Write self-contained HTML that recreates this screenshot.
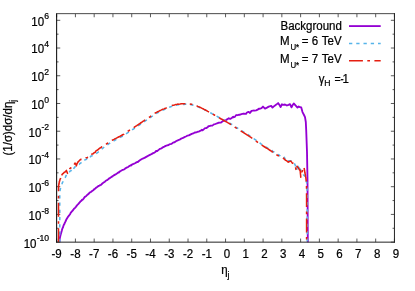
<!DOCTYPE html><html><head><meta charset="utf-8"><style>html,body{margin:0;padding:0;background:#fff}svg{display:block;will-change:transform}text{font-family:"Liberation Sans",sans-serif;fill:#000;stroke:#000;stroke-width:0.22px}</style></head><body>
<svg width="415" height="291" viewBox="0 0 415 291">
<rect width="415" height="291" fill="#fff"/>
<path d="M56.65,242.15 v-3.6 M56.65,13.65 v3.6 M75.42,242.15 v-3.6 M75.42,13.65 v3.6 M94.18,242.15 v-3.6 M94.18,13.65 v3.6 M112.95,242.15 v-3.6 M112.95,13.65 v3.6 M131.72,242.15 v-3.6 M131.72,13.65 v3.6 M150.48,242.15 v-3.6 M150.48,13.65 v3.6 M169.25,242.15 v-3.6 M169.25,13.65 v3.6 M188.02,242.15 v-3.6 M188.02,13.65 v3.6 M206.78,242.15 v-3.6 M206.78,13.65 v3.6 M225.55,242.15 v-3.6 M225.55,13.65 v3.6 M244.32,242.15 v-3.6 M244.32,13.65 v3.6 M263.08,242.15 v-3.6 M263.08,13.65 v3.6 M281.85,242.15 v-3.6 M281.85,13.65 v3.6 M300.62,242.15 v-3.6 M300.62,13.65 v3.6 M319.38,242.15 v-3.6 M319.38,13.65 v3.6 M338.15,242.15 v-3.6 M338.15,13.65 v3.6 M356.92,242.15 v-3.6 M356.92,13.65 v3.6 M375.68,242.15 v-3.6 M375.68,13.65 v3.6 M394.45,242.15 v-3.6 M394.45,13.65 v3.6 M56.65,242.15 h3.6 M394.45,242.15 h-3.6 M56.65,228.28 h1.9 M394.45,228.28 h-1.9 M56.65,214.42 h3.6 M394.45,214.42 h-3.6 M56.65,200.55 h1.9 M394.45,200.55 h-1.9 M56.65,186.69 h3.6 M394.45,186.69 h-3.6 M56.65,172.82 h1.9 M394.45,172.82 h-1.9 M56.65,158.96 h3.6 M394.45,158.96 h-3.6 M56.65,145.09 h1.9 M394.45,145.09 h-1.9 M56.65,131.22 h3.6 M394.45,131.22 h-3.6 M56.65,117.36 h1.9 M394.45,117.36 h-1.9 M56.65,103.49 h3.6 M394.45,103.49 h-3.6 M56.65,89.63 h1.9 M394.45,89.63 h-1.9 M56.65,75.76 h3.6 M394.45,75.76 h-3.6 M56.65,61.90 h1.9 M394.45,61.90 h-1.9 M56.65,48.03 h3.6 M394.45,48.03 h-3.6 M56.65,34.17 h1.9 M394.45,34.17 h-1.9 M56.65,20.30 h3.6 M394.45,20.30 h-3.6" stroke="#000" stroke-width="0.65" fill="none"/>
<path d="M59.40,242.15 L59.55,240.56 L59.70,239.00 L59.71,238.96 L60.02,237.40 L60.30,236.00 L60.35,235.83 L60.78,234.29 L61.21,232.75 L61.63,231.21 L61.90,230.25 L62.10,229.40 L62.62,227.95 L63.15,227.00 L63.20,226.54 L63.82,224.82 L64.40,223.98 L64.51,223.50 L65.17,222.16 L65.83,220.74 L66.50,219.23 L66.90,218.62 L67.26,217.98 L68.18,216.55 L69.10,215.46 L70.02,214.25 L70.94,212.39 L71.30,212.19 L71.93,211.29 L72.97,210.24 L74.00,208.78 L75.04,207.85 L76.07,206.61 L76.60,205.93 L77.13,205.19 L78.20,204.14 L79.27,202.80 L80.34,201.55 L81.41,200.71 L82.00,199.76 L82.52,199.77 L83.68,198.57 L84.84,196.87 L86.01,196.27 L87.17,194.87 L87.50,194.81 L88.39,194.09 L89.63,192.63 L90.87,192.00 L92.11,190.99 L93.35,190.24 L94.00,189.24 L94.61,189.21 L95.89,187.84 L97.17,187.05 L98.45,185.98 L99.73,185.52 L100.00,185.13 L101.02,184.80 L102.32,183.48 L103.62,182.59 L104.92,181.66 L106.00,180.57 L106.23,180.53 L107.55,179.94 L108.87,178.65 L110.19,177.87 L111.51,176.92 L112.50,176.38 L112.84,175.96 L114.20,175.17 L115.56,174.42 L116.93,173.55 L118.29,172.49 L118.75,172.60 L119.66,171.58 L121.05,170.80 L122.43,169.97 L123.81,169.66 L125.00,168.67 L125.19,168.43 L126.58,167.59 L127.97,167.14 L129.35,166.02 L130.74,165.17 L131.00,165.44 L132.15,164.43 L133.57,163.89 L134.99,163.21 L136.40,162.37 L137.50,161.89 L137.82,162.01 L139.20,160.81 L140.59,159.85 L141.98,158.93 L143.37,158.49 L144.76,157.66 L145.00,157.66 L146.16,156.87 L147.57,156.12 L148.98,155.31 L150.39,154.59 L151.80,153.99 L151.90,153.82 L153.16,153.12 L154.51,152.66 L155.86,151.49 L156.00,150.95 L157.25,150.97 L158.64,149.88 L160.03,148.80 L161.42,148.42 L162.50,147.60 L162.82,147.32 L164.28,146.64 L165.73,145.89 L167.18,145.45 L168.63,145.00 L169.00,144.53 L170.10,144.22 L171.57,143.90 L173.03,142.58 L174.50,142.27 L175.00,141.93 L175.93,141.27 L177.34,140.52 L178.76,139.99 L180.17,139.34 L181.00,138.68 L181.59,138.51 L183.01,137.94 L184.44,137.12 L185.87,136.52 L187.29,135.71 L187.50,135.61 L188.78,135.41 L190.27,134.57 L191.76,133.88 L193.25,133.43 L194.74,132.50 L195.00,132.53 L196.25,132.32 L197.75,131.74 L199.26,131.40 L200.76,130.52 L201.90,129.77 L202.24,130.37 L203.66,129.43 L205.07,128.16 L206.48,128.01 L207.90,126.93 L208.50,126.14 L209.36,126.17 L210.86,125.59 L212.36,125.61 L213.86,124.40 L215.00,124.13 L215.37,124.00 L216.89,123.46 L218.40,122.79 L219.92,122.63 L221.00,122.53 L221.42,122.21 L222.89,121.09 L224.36,120.37 L225.83,120.15 L227.00,119.37 L227.30,119.27 L228.78,118.29 L230.25,118.92 L231.73,117.96 L233.21,116.67 L233.50,117.23 L234.71,116.96 L236.22,115.05 L237.73,115.20 L239.24,114.72 L240.00,114.85 L240.76,114.35 L242.31,113.89 L243.86,113.55 L245.40,113.92 L246.00,113.89 L246.94,112.49 L248.46,111.84 L249.99,112.91 L251.52,110.85 L253.05,110.55 L254.00,110.52 L254.58,110.55 L256.11,110.35 L257.65,109.62 L259.18,108.58 L260.00,108.75 L261.50,108.20 L263.00,106.60 L265.00,108.60 L267.00,107.60 L268.75,106.60 L271.25,105.90 L272.50,107.60 L274.40,105.90 L276.30,104.60 L278.10,103.10 L279.50,105.00 L280.60,107.00 L281.90,104.30 L283.50,104.90 L285.00,104.50 L286.90,105.50 L288.50,104.80 L290.00,104.10 L291.50,107.30 L292.70,105.00 L293.75,103.50 L295.50,105.40 L297.50,107.60 L298.75,106.50 L300.00,107.20 L301.25,107.50 L302.50,112.10 L304.00,115.00 L305.00,117.10 L305.80,122.00 L306.20,130.00 L307.00,152.00 L307.50,180.00 L307.80,242.15" stroke="#9400D3" stroke-width="1.85" fill="none" stroke-linejoin="round"/>
<path d="M59.75,241.95 L59.75,240.81 L59.75,238.94 L59.75,238.11 L59.75,236.84 L59.75,235.04 L59.75,233.86 L59.75,232.41 L59.75,230.85 L59.75,229.33 L59.75,227.64 L59.75,227.10 L59.75,225.34 L59.75,224.58 L59.75,222.76 L59.75,221.22 L59.75,219.59 L59.75,218.70 L59.75,216.82 L59.75,215.94 L59.75,214.05 L59.75,212.80 L59.75,210.97 L59.75,210.54 L59.75,208.53 L59.75,207.05 L59.75,205.95 L59.75,204.13 L59.75,203.14 L59.75,201.26 L59.75,200.29 L59.75,198.49 L59.75,196.89 L59.75,195.80 L59.75,194.18 L59.75,193.29 L59.75,193.01 L59.91,191.89 L60.09,190.39 L60.20,189.41 L60.34,189.01 L60.73,187.92 L61.12,186.26 L61.50,184.81 L61.51,184.72 L62.05,183.62 L62.60,182.20 L63.14,181.56 L63.30,180.41 L63.79,179.58 L64.48,178.56 L65.18,177.59 L65.88,176.15 L66.00,175.76 L66.70,174.88 L67.55,173.88 L68.30,173.24 L68.43,172.64 L69.45,171.90 L70.47,170.81 L70.75,170.78 L71.61,170.26 L72.79,169.04 L72.80,170.00 L73.74,168.42 L74.68,167.22 L75.00,166.78 L75.84,166.53 L77.10,166.00 L77.50,165.95 L78.24,165.19 L79.32,164.43 L80.00,163.35 L80.44,163.27 L81.60,162.42 L82.00,162.44 L82.60,161.83 L83.52,160.29 L84.00,160.06 L84.62,160.03 L85.92,159.56 L87.00,158.62 L87.20,158.92 L88.38,158.11 L89.56,157.17 L90.00,157.49 L90.76,156.28 L91.98,155.79 L93.19,155.27 L94.40,154.52 L94.50,154.36 L95.56,154.02 L96.72,153.25 L97.88,152.33 L99.04,151.57 L99.50,150.99 L100.14,150.39 L101.20,149.65 L102.26,148.58 L103.32,147.82 L104.30,146.86 L104.38,146.82 L105.54,146.01 L106.70,145.28 L107.80,144.46 L107.86,144.54 L109.04,143.72 L110.22,142.95 L111.41,142.17 L112.20,141.71 L112.61,141.48 L113.84,140.91 L115.08,140.21 L116.31,139.42 L117.55,138.92 L118.30,138.32 L118.78,138.26 L120.01,137.42 L121.24,136.85 L122.48,136.23 L123.71,135.52 L124.05,135.28 L124.87,134.81 L126.01,133.84 L127.15,133.04 L128.28,132.36 L129.05,131.70 L129.43,131.51 L130.62,130.79 L131.80,130.00 L132.99,129.28 L134.05,128.60 L134.17,128.52 L135.33,127.79 L136.49,126.99 L137.65,126.18 L138.81,125.42 L139.30,125.02 L139.97,124.56 L141.13,123.76 L142.29,123.07 L143.45,122.32 L144.61,121.46 L145.30,120.90 L145.77,120.65 L146.94,119.92 L148.10,119.14 L149.26,118.35 L150.43,117.61 L150.60,117.49 L151.55,116.66 L152.67,115.91 L153.79,115.01 L154.91,114.21 L155.30,113.97 L156.11,113.59 L157.36,112.89 L158.60,112.20 L159.85,111.57 L161.10,110.98 L161.30,110.80 L162.38,110.38 L163.66,109.86 L164.95,109.32 L166.23,108.70 L167.20,108.32 L167.52,108.23 L168.79,107.60 L170.07,106.93 L171.35,106.46 L171.55,106.37 L172.69,106.02 L174.04,105.67 L175.30,105.25 L175.39,105.37 L176.77,105.09 L178.15,104.80 L178.30,104.81 L179.54,104.65 L180.93,104.44 L182.30,104.18 L182.32,104.17 L183.72,104.36 L185.12,104.15 L185.90,104.16 L186.51,104.23 L187.91,104.25 L188.80,104.36 L189.31,104.33 L190.69,104.62 L191.55,104.62 L192.07,104.88 L193.43,105.19 L194.30,105.37 L194.78,105.54 L196.10,106.01 L197.41,106.52 L197.55,106.57 L198.69,106.99 L199.97,107.67 L201.24,108.15 L202.52,108.78 L203.30,109.11 L203.79,109.40 L205.03,109.99 L206.28,110.66 L207.53,111.25 L208.78,111.86 L210.03,112.60 L210.05,112.58 L211.25,113.24 L212.48,113.93 L213.71,114.50 L214.94,115.27 L215.05,115.23 L216.17,115.91 L217.40,116.55 L218.63,117.25 L219.86,117.94 L220.05,118.01 L221.09,118.53 L222.31,119.30 L223.54,119.98 L224.77,120.63 L225.80,121.21 L226.00,121.18 L227.22,121.95 L228.45,122.61 L229.68,123.19 L230.91,123.97 L231.90,124.51 L232.12,124.58 L233.28,125.40 L234.44,126.24 L235.59,127.05 L236.30,127.54 L236.77,127.72 L237.97,128.44 L239.18,129.18 L240.38,129.92 L241.59,130.60 L241.70,130.69 L242.78,131.41 L243.96,132.15 L245.15,132.86 L246.34,133.54 L247.30,134.18 L247.52,134.38 L248.68,135.17 L249.84,135.96 L251.01,136.64 L252.17,137.45 L252.80,137.84 L253.31,138.13 L254.44,139.05 L255.57,139.85 L256.69,140.84 L257.55,141.42 L257.83,141.56 L258.98,142.39 L260.13,143.20 L261.29,144.06 L262.20,144.64 L262.45,144.83 L263.63,145.52 L264.82,146.31 L266.01,147.06 L267.19,147.78 L267.30,147.80 L268.38,148.52 L269.58,149.18 L270.77,150.28 L271.97,150.59 L272.20,150.63 L273.14,151.90 L274.30,152.10 L275.47,153.02 L276.63,153.49 L277.00,153.83 L277.83,154.39 L279.05,154.92 L280.26,156.17 L281.48,156.38 L281.90,156.49 L282.73,157.46 L284.00,157.94 L284.30,157.32 L284.99,158.58 L285.80,159.95 L285.91,159.58 L287.12,160.40 L288.33,161.12 L288.55,160.74 L289.66,160.77 L291.00,160.81 L291.05,160.96 L291.96,161.58 L292.60,162.28 L292.98,162.68 L294.17,163.33 L294.20,163.43 L294.81,164.31 L295.44,165.78 L295.50,166.03 L295.85,167.26 L296.25,168.07 L296.64,170.01 L296.70,170.03 L296.86,168.87 L297.06,167.00 L297.25,166.07 L297.30,165.31 L297.95,165.89 L298.82,167.65 L299.20,168.10 L298.78,167.46 L298.02,166.31 L297.60,165.61 L298.04,166.32 L299.03,167.23 L299.50,167.91 L299.83,168.79 L300.45,169.61 L301.00,170.71 L301.10,171.13 L301.87,171.60 L302.00,171.93 L302.57,173.10 L303.00,173.42 L303.31,174.46 L303.90,175.41 L304.09,175.06 L304.75,176.41 L305.41,178.07 L305.50,178.35 L305.79,178.77 L306.13,180.53 L306.47,181.89 L306.81,183.25 L307.00,184.00 L307.01,184.63 L307.04,186.03 L307.06,187.43 L307.09,188.83 L307.12,190.23 L307.14,191.63 L307.17,193.03 L307.20,194.43 L307.22,195.83 L307.25,197.23 L307.27,198.63 L307.30,200.00 L307.30,200.02 L307.30,201.42 L307.30,202.82 L307.30,204.22 L307.30,205.62 L307.30,207.02 L307.30,208.42 L307.30,209.82 L307.30,211.22 L307.30,212.62 L307.30,214.02 L307.30,215.42 L307.30,216.82 L307.30,218.22 L307.30,219.62 L307.30,221.02 L307.30,222.42 L307.30,223.82 L307.30,225.22 L307.30,226.62 L307.30,228.02 L307.30,229.42 L307.30,230.82 L307.30,232.22 L307.30,233.62 L307.30,235.02 L307.30,236.42 L307.30,237.82 L307.30,239.22 L307.30,240.62 L307.30,242.02 L307.30,242.15" stroke="#56B4E9" stroke-width="1.55" fill="none" stroke-dasharray="3.3 3.95" stroke-linejoin="round"/>
<path d="M58.50,242.15 L58.50,240.75 L58.50,239.35 L58.50,237.95 L58.50,236.55 L58.50,235.15 L58.50,233.75 L58.50,232.35 L58.50,230.95 L58.50,229.55 L58.50,228.15 L58.50,226.75 L58.50,225.35 L58.50,223.95 L58.50,222.55 L58.50,221.15 L58.50,219.75 L58.50,218.35 L58.50,216.95 L58.50,215.55 L58.50,214.15 L58.50,212.75 L58.50,211.35 L58.50,209.95 L58.50,208.55 L58.50,207.15 L58.50,205.75 L58.50,204.35 L58.50,202.95 L58.50,201.55 L58.50,200.15 L58.50,198.75 L58.50,197.35 L58.50,195.95 L58.50,194.55 L58.50,193.15 L58.50,191.75 L58.50,190.35 L58.50,190.00 L58.53,188.95 L58.56,187.58 L58.60,186.17 L58.60,185.69 L58.82,184.79 L59.06,183.73 L59.31,181.63 L59.40,181.71 L59.67,180.69 L60.10,179.17 L60.53,178.50 L60.60,177.99 L61.08,176.41 L61.64,175.45" stroke="#E51E10" stroke-width="1.55" fill="none" stroke-dasharray="13.9 4.4 2.7 4.4" stroke-linejoin="round"/>
<path d="M61.64,175.45 L62.00,174.74 L62.34,174.19 L63.31,173.40 L64.28,172.20 L64.30,172.37 L65.39,171.73 L66.40,170.43 L66.45,170.77 L66.97,171.91 L67.49,173.35 L67.60,173.30 L67.91,172.40 L68.31,171.15 L68.60,170.42 L68.85,170.23 L69.83,168.61 L70.75,167.80 L70.80,168.10 L71.70,166.36 L72.59,165.67 L73.00,165.28 L73.53,165.06 L74.50,163.91 L75.10,163.02 L75.35,163.47 L76.02,164.73 L76.40,165.88 L76.61,164.84 L77.12,163.56 L77.60,162.49 L77.65,162.32 L78.68,161.35 L79.71,160.18 L80.74,159.50 L80.75,159.39 L82.07,159.35 L83.39,158.77 L84.00,158.39 L84.72,158.35 L86.06,157.68 L87.40,157.62 L87.60,157.30 L88.63,156.84 L89.84,155.67 L90.50,155.69 L91.02,154.83 L92.19,153.96 L93.25,153.67 L93.33,153.44 L94.33,152.73 L95.33,152.27 L95.75,151.09 L96.40,150.65 L97.52,150.01 L98.00,149.72 L98.62,149.06 L99.72,148.18 L100.00,148.04 L100.89,147.49 L102.09,146.70 L103.29,146.02 L104.00,145.60 L104.47,145.23 L105.64,144.51 L106.80,143.68 L107.50,143.30 L107.97,142.97 L109.16,142.22 L110.35,141.44 L111.53,140.72 L111.90,140.40 L112.76,139.99 L114.00,139.42 L115.24,138.64 L116.48,138.14 L117.72,137.36 L118.00,137.34 L118.95,136.75 L120.19,136.18 L121.43,135.49 L122.66,134.75 L123.75,134.31 L123.89,134.22 L125.03,133.34 L126.17,132.52 L127.31,131.71 L128.45,130.86 L128.75,130.75 L129.63,130.13 L130.82,129.41 L132.01,128.64 L133.20,127.91 L133.75,127.54 L134.38,127.24 L135.54,126.40 L136.71,125.68 L137.87,124.85 L139.00,124.07 L139.04,124.06 L140.20,123.27 L141.37,122.52 L142.53,121.73 L143.70,120.95 L144.86,120.12 L145.00,120.06 L146.03,119.50 L147.20,118.62 L148.37,117.82 L149.53,117.12 L150.30,116.67 L150.69,116.24 L151.81,115.47 L152.93,114.61 L154.06,113.72 L155.00,113.14 L155.20,113.00 L156.45,112.38 L157.70,111.71 L158.96,111.15 L160.21,110.47 L161.00,110.09 L161.47,109.84 L162.76,109.29 L164.05,108.87 L165.34,108.24 L166.63,107.73 L166.90,107.60" stroke="#E51E10" stroke-width="1.55" fill="none" stroke-dasharray="13.9 4.4 2.7 4.4" stroke-dashoffset="3.09" stroke-linejoin="round"/>
<path d="M171.79,105.55 L173.14,105.20 L174.50,104.89 L175.00,104.73 L175.87,104.57 L177.25,104.30 L178.00,104.13 L178.63,104.18 L180.02,104.02 L181.42,103.81 L182.00,103.78 L182.81,103.77 L184.21,103.73 L185.60,103.70 L185.61,103.63 L187.01,103.80 L188.41,103.73 L188.50,103.84 L189.79,104.04 L191.17,104.28 L191.25,104.34 L192.53,104.63 L193.90,104.82 L194.00,104.82 L195.21,105.39 L196.53,105.78 L197.25,106.10 L197.82,106.41 L199.09,106.88 L200.35,107.45 L201.62,108.17 L202.89,108.75 L203.00,108.79 L204.13,109.40 L205.36,110.02 L206.60,110.64 L207.83,111.37 L209.07,111.99 L209.75,112.32 L210.29,112.74 L211.51,113.40 L212.73,114.12 L213.94,114.74 L214.75,115.22 L215.16,115.43 L216.38,116.13 L217.59,116.88 L218.81,117.52 L219.75,118.12 L220.02,118.27 L221.24,119.06 L222.45,119.58 L223.67,120.39 L224.88,121.04 L225.50,121.40 L226.10,121.67 L227.31,122.42 L228.52,123.17 L229.74,123.83 L230.95,124.53 L231.60,124.89 L232.13,125.33 L233.28,126.08 L234.42,126.78 L235.57,127.66 L236.00,127.90 L236.74,128.29 L237.94,129.16 L239.13,129.98 L240.33,130.65 L241.40,131.24 L241.52,131.33 L242.71,132.17 L243.90,132.87 L245.08,133.60 L246.27,134.34 L247.00,134.80 L247.45,135.14 L248.61,135.91 L249.77,136.67 L250.93,137.39 L252.09,138.25 L252.50,138.47 L253.23,139.10 L254.36,139.81 L255.49,140.69 L256.61,141.53 L257.25,141.93 L257.75,142.43 L258.91,143.21 L260.06,143.91 L261.21,144.77 L261.90,145.22 L262.38,145.37 L263.57,146.26 L264.75,146.99 L265.94,147.74 L267.00,148.35 L267.12,148.46 L268.32,149.20 L269.51,150.00 L270.71,150.75 L271.90,151.40 L271.90,151.78 L273.06,152.04 L274.23,152.86 L275.39,153.28 L276.56,154.90 L276.70,154.84 L277.77,155.44 L278.98,156.07 L280.20,156.63 L281.42,157.35 L281.60,157.34 L282.68,157.84 L283.95,158.49 L284.00,158.88 L284.86,159.67 L285.50,160.29 L285.85,160.36 L287.06,161.05 L288.25,162.30 L288.27,162.02 L289.62,161.53 L290.75,161.11 L290.90,161.09 L291.85,162.39 L292.30,163.12 L292.92,163.19 L293.90,163.84 L294.01,164.06 L294.63,165.39 L295.20,166.10 L295.24,166.57 L295.63,167.76 L296.02,169.54 L296.40,170.41 L296.41,170.68 L296.60,169.53 L296.80,167.69 L296.99,166.23 L297.00,166.35 L297.82,167.33 L298.69,168.18 L298.90,168.82 L299.62,169.98 L300.10,169.94 L300.16,170.63 L300.30,171.82 L300.43,173.55 L300.56,174.56 L300.69,175.98 L300.75,177.22 L300.90,175.93 L301.17,175.05 L301.45,173.79 L301.72,172.10 L301.75,172.04 L302.25,171.23 L302.80,169.41 L303.00,168.85 L303.35,167.83 L303.90,166.91 L303.90,167.29 L304.14,168.54 L304.37,169.44 L304.61,170.84 L304.75,171.77 L304.85,172.51 L305.11,173.76 L305.37,175.24 L305.62,176.64 L305.80,177.43 L305.86,177.93 L306.03,179.33 L306.21,180.72 L306.39,182.11 L306.50,183.00 L306.50,183.50 L306.51,184.90 L306.52,186.30 L306.53,187.70 L306.54,189.10 L306.54,190.50 L306.55,191.90 L306.56,193.30 L306.57,194.70 L306.58,196.10 L306.59,197.50 L306.59,198.90 L306.60,200.00 L306.60,200.30 L306.60,201.70 L306.60,203.10 L306.60,204.50 L306.60,205.90 L306.60,207.30 L306.60,208.70 L306.60,210.10 L306.60,211.50 L306.60,212.90 L306.60,214.30 L306.60,215.70 L306.60,217.10 L306.60,218.50 L306.60,219.90 L306.60,221.30 L306.60,222.70 L306.60,224.10 L306.60,225.50 L306.60,226.90 L306.60,228.30 L306.60,229.70 L306.60,231.10 L306.60,232.50 L306.60,233.90 L306.60,235.30 L306.60,236.70 L306.60,238.10 L306.60,239.50 L306.60,240.90 L306.60,242.15" stroke="#E51E10" stroke-width="1.55" fill="none" stroke-dasharray="13.9 4.4 2.7 4.4" stroke-linejoin="round"/>
<path d="M56.65,13.15 V242.65" stroke="#000" stroke-width="1" fill="none"/>
<path d="M56.15,13.65 H394.95" stroke="#4a4a4a" stroke-width="1" fill="none"/>
<path d="M394.45,13.15 V242.65" stroke="#222" stroke-width="1" fill="none"/>
<path d="M56.15,242.15 H394.95" stroke="#222" stroke-width="1" fill="none"/>
<g transform="translate(56.65,258.30)  scale(0.96,1)"><text font-size="12.0" text-anchor="middle">-9</text></g>
<g transform="translate(75.42,258.30)  scale(0.96,1)"><text font-size="12.0" text-anchor="middle">-8</text></g>
<g transform="translate(94.18,258.30)  scale(0.96,1)"><text font-size="12.0" text-anchor="middle">-7</text></g>
<g transform="translate(112.95,258.30)  scale(0.96,1)"><text font-size="12.0" text-anchor="middle">-6</text></g>
<g transform="translate(131.72,258.30)  scale(0.96,1)"><text font-size="12.0" text-anchor="middle">-5</text></g>
<g transform="translate(150.48,258.30)  scale(0.96,1)"><text font-size="12.0" text-anchor="middle">-4</text></g>
<g transform="translate(169.25,258.30)  scale(0.96,1)"><text font-size="12.0" text-anchor="middle">-3</text></g>
<g transform="translate(188.02,258.30)  scale(0.96,1)"><text font-size="12.0" text-anchor="middle">-2</text></g>
<g transform="translate(206.78,258.30)  scale(0.96,1)"><text font-size="12.0" text-anchor="middle">-1</text></g>
<g transform="translate(226.95,258.30)  scale(0.96,1)"><text font-size="12.0" text-anchor="middle">0</text></g>
<g transform="translate(245.72,258.30)  scale(0.96,1)"><text font-size="12.0" text-anchor="middle">1</text></g>
<g transform="translate(264.48,258.30)  scale(0.96,1)"><text font-size="12.0" text-anchor="middle">2</text></g>
<g transform="translate(283.25,258.30)  scale(0.96,1)"><text font-size="12.0" text-anchor="middle">3</text></g>
<g transform="translate(302.02,258.30)  scale(0.96,1)"><text font-size="12.0" text-anchor="middle">4</text></g>
<g transform="translate(320.78,258.30)  scale(0.96,1)"><text font-size="12.0" text-anchor="middle">5</text></g>
<g transform="translate(339.55,258.30)  scale(0.96,1)"><text font-size="12.0" text-anchor="middle">6</text></g>
<g transform="translate(358.32,258.30)  scale(0.96,1)"><text font-size="12.0" text-anchor="middle">7</text></g>
<g transform="translate(377.08,258.30)  scale(0.96,1)"><text font-size="12.0" text-anchor="middle">8</text></g>
<g transform="translate(395.85,258.30)  scale(0.96,1)"><text font-size="12.0" text-anchor="middle">9</text></g>
<g transform="translate(49.15,247.51)  scale(0.96,1)"><text font-size="12.0" text-anchor="end">10<tspan font-size="9.0" dy="-6.2" dx="0.2">-10</tspan></text></g>
<g transform="translate(49.15,219.78)  scale(0.96,1)"><text font-size="12.0" text-anchor="end">10<tspan font-size="9.0" dy="-6.2" dx="0.2">-8</tspan></text></g>
<g transform="translate(49.15,192.05)  scale(0.96,1)"><text font-size="12.0" text-anchor="end">10<tspan font-size="9.0" dy="-6.2" dx="0.2">-6</tspan></text></g>
<g transform="translate(49.15,164.32)  scale(0.96,1)"><text font-size="12.0" text-anchor="end">10<tspan font-size="9.0" dy="-6.2" dx="0.2">-4</tspan></text></g>
<g transform="translate(49.15,136.59)  scale(0.96,1)"><text font-size="12.0" text-anchor="end">10<tspan font-size="9.0" dy="-6.2" dx="0.2">-2</tspan></text></g>
<g transform="translate(49.15,108.85)  scale(0.96,1)"><text font-size="12.0" text-anchor="end">10<tspan font-size="9.0" dy="-6.2" dx="0.2">0</tspan></text></g>
<g transform="translate(49.15,81.12)  scale(0.96,1)"><text font-size="12.0" text-anchor="end">10<tspan font-size="9.0" dy="-6.2" dx="0.2">2</tspan></text></g>
<g transform="translate(49.15,53.39)  scale(0.96,1)"><text font-size="12.0" text-anchor="end">10<tspan font-size="9.0" dy="-6.2" dx="0.2">4</tspan></text></g>
<g transform="translate(49.15,25.66)  scale(0.96,1)"><text font-size="12.0" text-anchor="end">10<tspan font-size="9.0" dy="-6.2" dx="0.2">6</tspan></text></g>
<g transform="translate(221.20,273.90)  scale(0.96,1)"><text font-size="12.0" text-anchor="start">η</text></g>
<g transform="translate(227.60,277.90)  scale(0.96,1)"><text font-size="9.0" text-anchor="start">j</text></g>
<g transform="translate(12.30,127.60) rotate(-90) scale(0.96,1)"><text font-size="12.0" text-anchor="middle">(1/σ)dσ/dη<tspan font-size="9.0" dy="3.4">j</tspan></text></g>
<g transform="translate(341.90,30.05)  scale(0.96,1)"><text font-size="12.0" text-anchor="end">Background</text></g>
<g transform="translate(280.00,45.40)  scale(0.96,1)"><text font-size="12.0" text-anchor="start">M<tspan font-size="8.2" dy="4.2" dx="0.9">U*</tspan></text></g>
<g transform="translate(301.70,45.40)  scale(0.96,1)"><text font-size="12.0" text-anchor="start">=</text></g>
<g transform="translate(311.85,45.40)  scale(0.96,1)"><text font-size="12.0" text-anchor="start">6</text></g>
<g transform="translate(341.70,45.40)  scale(0.96,1)"><text font-size="12.0" text-anchor="end">TeV</text></g>
<g transform="translate(280.00,63.40)  scale(0.96,1)"><text font-size="12.0" text-anchor="start">M<tspan font-size="8.2" dy="4.2" dx="0.9">U*</tspan></text></g>
<g transform="translate(301.70,63.40)  scale(0.96,1)"><text font-size="12.0" text-anchor="start">=</text></g>
<g transform="translate(311.85,63.40)  scale(0.96,1)"><text font-size="12.0" text-anchor="start">7</text></g>
<g transform="translate(341.70,63.40)  scale(0.96,1)"><text font-size="12.0" text-anchor="end">TeV</text></g>
<g transform="translate(318.80,82.80)  scale(0.96,1)"><text font-size="12.0" text-anchor="start">γ</text></g>
<g transform="translate(324.20,85.90)  scale(0.96,1)"><text font-size="9.0" text-anchor="start">H</text></g>
<g transform="translate(334.5,82.8) scale(0.88,1)"><text font-size="12.0">=</text></g>
<g transform="translate(340.5,82.8) scale(0.8,1)"><text font-size="12.0">-</text></g>
<g transform="translate(348.90,82.80)  scale(0.96,1)"><text font-size="12.0" text-anchor="end">1</text></g>
<path d="M349,26.1 H380.7" stroke="#9400D3" stroke-width="1.85" fill="none"/>
<path d="M349,43.4 H380.7" stroke="#56B4E9" stroke-width="1.55" fill="none" stroke-dasharray="3.3 3.95"/>
<path d="M349,60.7 H380.7" stroke="#E51E10" stroke-width="1.55" fill="none" stroke-dasharray="13.9 4.4 2.7 4.4"/>
</svg></body></html>
